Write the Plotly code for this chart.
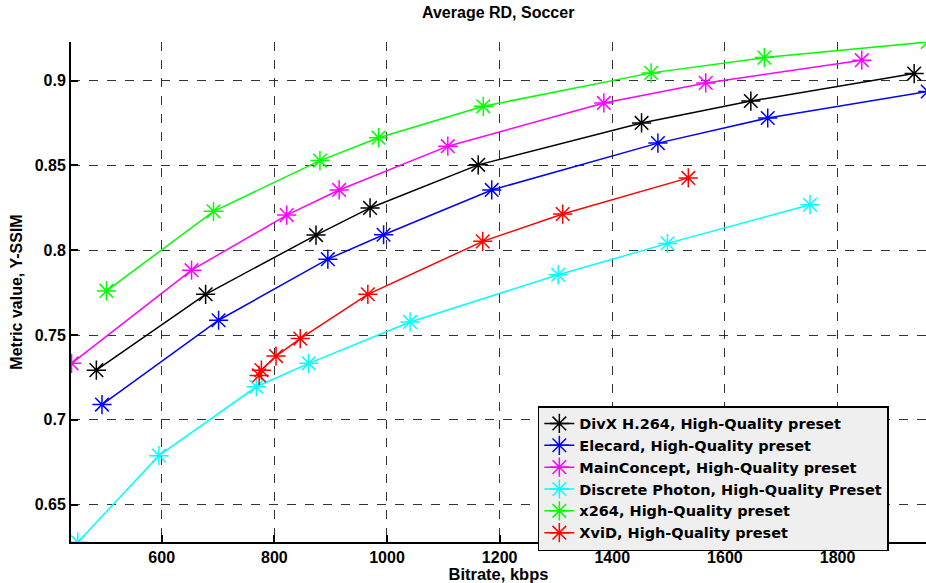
import plotly.graph_objects as go

# Data (Bitrate kbps, Y-SSIM)
divx_x = [484, 678, 874, 970, 1162, 1452, 1646, 1936]
divx_y = [0.7293, 0.7740, 0.8089, 0.8249, 0.8503, 0.8750, 0.8879, 0.9041]

elecard_x = [494, 701, 895, 994, 1186, 1481, 1676, 1960]
elecard_y = [0.7090, 0.7587, 0.7947, 0.8091, 0.8355, 0.8631, 0.8779, 0.8935]

mainconcept_x = [440, 653, 822, 915, 1108, 1385, 1566, 1843]
mainconcept_y = [0.7333, 0.7882, 0.8207, 0.8355, 0.8613, 0.8868, 0.8986, 0.9120]

discrete_x = [451, 595, 768, 861, 1041, 1304, 1498, 1751]
discrete_y = [0.6279, 0.6789, 0.7195, 0.7333, 0.7577, 0.7855, 0.8040, 0.8268]

x264_x = [502, 692, 881, 985, 1171, 1469, 1670, 1960]
x264_y = [0.7760, 0.8229, 0.8528, 0.8663, 0.8848, 0.9045, 0.9135, 0.9227]

xvid_x = [773, 777, 803, 846, 966, 1170, 1312, 1535]
xvid_y = [0.7262, 0.7293, 0.7376, 0.7479, 0.7740, 0.8052, 0.8213, 0.8426]

series = [
    ("DivX H.264, High-Quality preset", divx_x, divx_y, "#000000"),
    ("Elecard, High-Quality preset", elecard_x, elecard_y, "#0000ff"),
    ("MainConcept, High-Quality preset", mainconcept_x, mainconcept_y, "#ff00ff"),
    ("Discrete Photon, High-Quality Preset", discrete_x, discrete_y, "#00ffff"),
    ("x264, High-Quality preset", x264_x, x264_y, "#00ff00"),
    ("XviD, High-Quality preset", xvid_x, xvid_y, "#ff0000"),
]

x_ticks = [600, 800, 1000, 1200, 1400, 1600, 1800]
y_ticks = [0.65, 0.7, 0.75, 0.8, 0.85, 0.9]
y_tick_labels = ["0.65", "0.7", "0.75", "0.8", "0.85", "0.9"]

FONT = "Liberation Sans, Arial, sans-serif"

fig = go.Figure()
for i, (name, xs, ys, col) in enumerate(series):
    fig.add_trace(go.Scatter(
        x=xs, y=ys, name=name, mode="lines+markers",
        line=dict(color=col, width=1.5),
        marker=dict(symbol="asterisk-open", size=16, color=col,
                    line=dict(color=col, width=1.5)),
        legendgroup=str(i),
        cliponaxis=True,
    ))

axis_common = dict(
    showline=True, linecolor="black", linewidth=2,
    ticks="inside", ticklen=7, tickwidth=1.5, tickcolor="black",
    showgrid=True, gridcolor="#333333", gridwidth=1, griddash="dash",
    zeroline=False, mirror=False,
    tickfont=dict(family=FONT, size=16, color="black", weight="bold"),
)

fig.update_layout(
    width=926, height=583,
    margin=dict(l=71, r=0, t=42, b=41),
    paper_bgcolor="white", plot_bgcolor="white",
    title=dict(text="<b>Average RD, Soccer</b>", x=0.538, xanchor="center",
               y=0.978, yanchor="middle",
               font=dict(family=FONT, size=16, color="black")),
    xaxis=dict(range=[439, 1957], tickvals=x_ticks,
               title=dict(text="<b>Bitrate, kbps</b>", standoff=4,
                          font=dict(family=FONT, size=16.5, color="black")),
               **axis_common),
    yaxis=dict(range=[0.628, 0.9227], tickvals=y_ticks, ticktext=y_tick_labels,
               title=dict(text="<b>Metric value, Y-SSIM</b>", standoff=8,
                          font=dict(family=FONT, size=16, color="black")),
               **axis_common),
    legend=dict(x=0.546, y=0.272, xanchor="left", yanchor="top",
                bgcolor="#efefef", bordercolor="black", borderwidth=1.5,
                font=dict(family="DejaVu Sans, sans-serif", size=14.5,
                          color="black", weight="bold"),
                itemwidth=30, tracegroupgap=0),
    showlegend=True,
)

fig.write_html("out.html")
